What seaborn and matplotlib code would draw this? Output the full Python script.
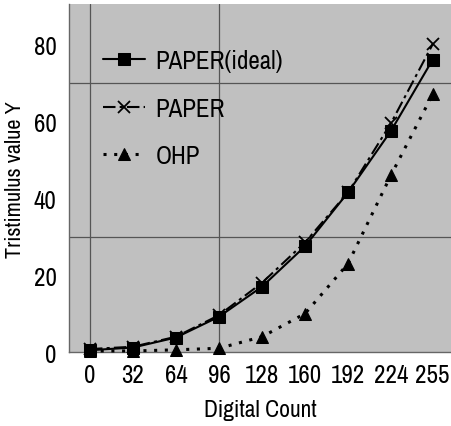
import seaborn as sns
import matplotlib.pyplot as plt
import pandas as pd

counts = [0, 32, 64, 96, 128, 160, 192, 224, 255]
paper_ideal = [0.5, 1.2, 3.8, 9.2, 17.0, 27.5, 41.5, 57.5, 76.0]
paper = [0.8, 1.4, 4.0, 9.6, 18.0, 28.5, 41.5, 59.5, 80.0]
ohp = [0.3, 0.3, 0.6, 1.0, 4.0, 10.0, 23.0, 46.0, 67.0]
x_ticks = [0, 32, 64, 96, 128, 160, 192, 224, 255]
y_ticks = [0, 20, 40, 60, 80]

df = pd.DataFrame({'count': counts, 'ideal': paper_ideal, 'paper': paper, 'ohp': ohp})

sns.set_style('white')
plt.rcParams['font.family'] = ['Archivo Narrow', 'DejaVu Sans']
plt.rcParams['text.color'] = 'black'
plt.rcParams['axes.labelcolor'] = 'black'
plt.rcParams['xtick.color'] = 'black'
plt.rcParams['ytick.color'] = 'black'

fig = plt.figure(figsize=(4.51, 4.27), dpi=100)
ax = fig.add_axes([0.153, 0.173, 0.847, 0.815])
ax.set_facecolor('#c0c0c0')

# the few reference grid lines
for yv in [30, 70]:
    ax.axhline(yv, color='#555555', lw=0.9, zorder=0)
for xv in [0, 96]:
    ax.axvline(xv, color='#555555', lw=0.9, zorder=0)

sns.lineplot(data=df, x='count', y='ideal', ax=ax, color='black', lw=1.5,
             marker='s', markersize=9, markeredgecolor='black', label='PAPER(ideal)',
             clip_on=False, zorder=4)
sns.lineplot(data=df, x='count', y='paper', ax=ax, color='black', lw=1.5,
             linestyle=(0, (6, 2, 1.5, 2)), marker='x', markersize=9,
             markeredgecolor='black', markeredgewidth=1.3, label='PAPER',
             clip_on=False, zorder=3)
sns.lineplot(data=df, x='count', y='ohp', ax=ax, color='black', lw=2.2,
             linestyle=(0, (1, 2.5)), marker='^', markersize=8,
             markeredgecolor='black', label='OHP', clip_on=False, zorder=3)

ax.set_xlim(-15.6, 268.6)
ax.set_ylim(0, 90.4)
ax.set_xticks(x_ticks)
ax.set_yticks(y_ticks)
ax.tick_params(axis='both', length=0, labelsize=18)
ax.tick_params(axis='x', pad=8)
ax.tick_params(axis='y', pad=9)
ax.set_xlabel('Digital Count', fontsize=17, labelpad=9)
ax.set_ylabel('Tristimulus value Y', fontsize=16, labelpad=6)

for side in ['top', 'right']:
    ax.spines[side].set_visible(False)
for side in ['left', 'bottom']:
    ax.spines[side].set_color('#666666')
    ax.spines[side].set_linewidth(1.0)

ax.legend(loc='upper left', bbox_to_anchor=(0.03, 0.935), frameon=False,
          fontsize=18, handlelength=1.7, labelspacing=0.98, handletextpad=0.4)

fig.savefig('out.png', dpi=100)
